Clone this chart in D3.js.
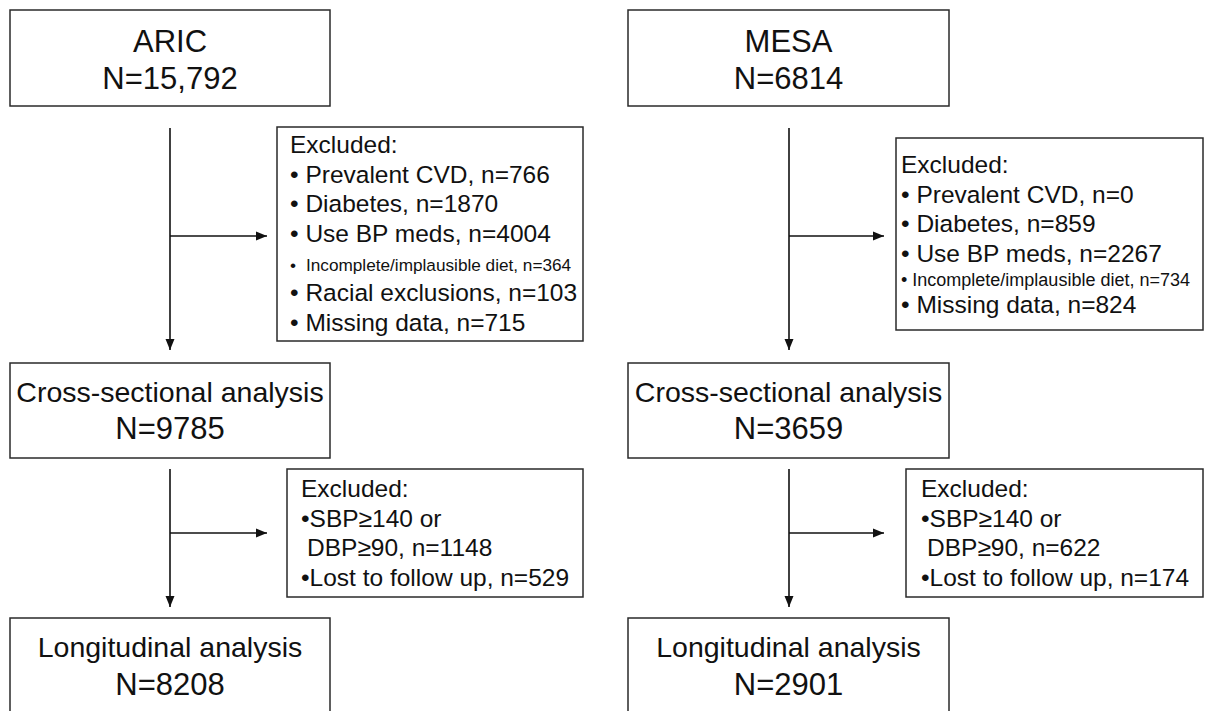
<!DOCTYPE html>
<html>
<head>
<meta charset="utf-8">
<script src="https://d3js.org/d3.v7.min.js"></script>
<style>
  body { margin: 0; background: #fff; }
  svg { display: block; font-family: "Liberation Sans", Arial, sans-serif; }
</style>
</head>
<body>
<svg id="chart"></svg>
<script>
// ---- data ----
var cohorts = ["ARIC", "MESA"];
var cohortN = ["15,792", "6814"];
var crossN = ["9785", "3659"];
var longN = ["8208", "2901"];

var aricExcl1Labels = ["Prevalent CVD", "Diabetes", "Use BP meds", "Incomplete/implausible diet", "Racial exclusions", "Missing data"];
var aricExcl1Counts = [766, 1870, 4004, 364, 103, 715];
var mesaExcl1Labels = ["Prevalent CVD", "Diabetes", "Use BP meds", "Incomplete/implausible diet", "Missing data"];
var mesaExcl1Counts = [0, 859, 2267, 734, 824];

var excl2Labels = ["SBP\u2265140 or DBP\u226590", "Lost to follow up"];
var aricExcl2Counts = [1148, 529];
var mesaExcl2Counts = [622, 174];

// ---- layout ----
var W = 1205, H = 711;
var svg = d3.select('#chart').attr('width', W).attr('height', H);

// column geometry for each cohort
var cols = [
  { box: [10, 330], line: 170, tip: 267, ex1: [277, 583, 127, 341], ex1x: 290,
    ex1Lines: [153, 182.5, 212, 241.5, 271, 301, 330.5], smallSize: 17.2,
    ex2: [287, 583], ex2x: 301 },
  { box: [628, 949], line: 789, tip: 884, ex1: [896, 1203, 138, 330], ex1x: 901,
    ex1Lines: [173, 202.5, 232, 261.5, 286, 313], smallSize: 18,
    ex2: [906, 1203], ex2x: 921 }
];
var rows = { top: [10, 106], cross: [363, 458], lng: [618, 740] };
var branch = { first: [128, 350, 236], second: [469, 607, 533] };
var ex2Y = [469, 597];
var ex2Lines = [497, 526.5, 556, 585.5];
var exSize = 24.5;

var g = svg.append('g');

function box(x0, x1, y0, y1) {
  g.append('rect')
    .attr('x', x0).attr('y', y0)
    .attr('width', x1 - x0).attr('height', y1 - y0)
    .attr('fill', '#fff').attr('stroke', '#2a2a2a').attr('stroke-width', 1.5);
}

function txt(x, y, s, size, anchor) {
  return g.append('text')
    .attr('x', x).attr('y', y)
    .attr('font-size', size)
    .attr('text-anchor', anchor || 'start')
    .attr('fill', '#111')
    .text(s);
}

var line = d3.line();
function arrow(pts) {
  g.append('path').attr('d', line(pts)).attr('fill', 'none')
    .attr('stroke', '#111').attr('stroke-width', 1.6);
  // head at the last point
  var a = pts[pts.length - 2], b = pts[pts.length - 1];
  var ang = Math.atan2(b[1] - a[1], b[0] - a[0]);
  var L = 11, hw = 4.5;
  var head = [
    b,
    [b[0] - L * Math.cos(ang) + hw * Math.sin(ang), b[1] - L * Math.sin(ang) - hw * Math.cos(ang)],
    [b[0] - L * Math.cos(ang) - hw * Math.sin(ang), b[1] - L * Math.sin(ang) + hw * Math.cos(ang)]
  ];
  g.append('path').attr('d', line(head) + 'Z').attr('fill', '#111');
}

cols.forEach(function (c, i) {
  var cx = (c.box[0] + c.box[1]) / 2;

  // main boxes
  box(c.box[0], c.box[1], rows.top[0], rows.top[1]);
  txt(cx, 52, cohorts[i], 31, 'middle');
  txt(cx, 89, 'N=' + cohortN[i], 31, 'middle');

  box(c.box[0], c.box[1], rows.cross[0], rows.cross[1]);
  txt(cx, 402, 'Cross-sectional analysis', 28.5, 'middle');
  txt(cx, 439, 'N=' + crossN[i], 31, 'middle');

  box(c.box[0], c.box[1], rows.lng[0], rows.lng[1]);
  txt(cx, 657, 'Longitudinal analysis', 28.5, 'middle');
  txt(cx, 695, 'N=' + longN[i], 31, 'middle');

  // arrows
  [branch.first, branch.second].forEach(function (b) {
    arrow([[c.line, b[0]], [c.line, b[1]]]);
    arrow([[c.line, b[2]], [c.tip, b[2]]]);
  });

  // first exclusion box
  var e = c.ex1;
  box(e[0], e[1], e[2], e[3]);
  var labels = i === 0 ? aricExcl1Labels : mesaExcl1Labels;
  var counts = i === 0 ? aricExcl1Counts : mesaExcl1Counts;
  txt(c.ex1x, c.ex1Lines[0], 'Excluded:', exSize);
  labels.forEach(function (l, k) {
    var y = c.ex1Lines[k + 1];
    if (l.indexOf('Incomplete') === 0) {
      if (i === 0) {
        txt(c.ex1x, y, '\u2022', c.smallSize);
        txt(c.ex1x + 16, y, l + ', n=' + counts[k], c.smallSize);
      } else {
        txt(c.ex1x, y, '\u2022 ' + l + ', n=' + counts[k], c.smallSize);
      }
    } else {
      txt(c.ex1x, y, '\u2022 ' + l + ', n=' + counts[k], exSize);
    }
  });

  // second exclusion box
  box(c.ex2[0], c.ex2[1], ex2Y[0], ex2Y[1]);
  var c2 = i === 0 ? aricExcl2Counts : mesaExcl2Counts;
  var parts = excl2Labels[0].split(' or ');
  txt(c.ex2x, ex2Lines[0], 'Excluded:', exSize);
  txt(c.ex2x, ex2Lines[1], '\u2022' + parts[0] + ' or', exSize);
  txt(c.ex2x + 6, ex2Lines[2], parts[1] + ', n=' + c2[0], exSize);
  txt(c.ex2x, ex2Lines[3], '\u2022' + excl2Labels[1] + ', n=' + c2[1], exSize);
});
</script>
</body>
</html>
